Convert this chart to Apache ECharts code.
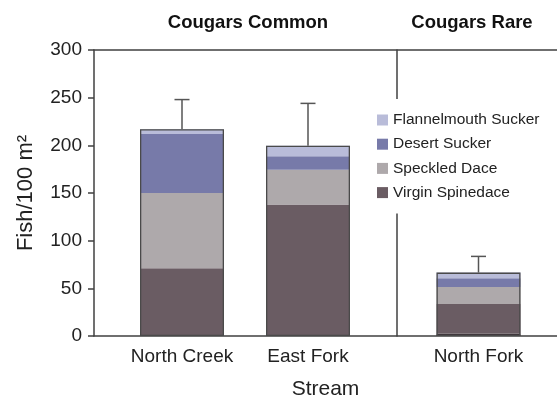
<!DOCTYPE html>
<html><head><meta charset="utf-8">
<script src="https://cdn.jsdelivr.net/npm/echarts@6/dist/echarts.min.js"></script>
<style>html,body{margin:0;padding:0;background:#fff}#c{width:557px;height:401px}</style>
</head><body><div id="c"></div>
<script>
// ---- data ----
const streams = ['North Creek', 'East Fork', 'North Fork'];
const streamGroup = [0, 0, 1];
const groupTitles = ['Cougars Common', 'Cougars Rare'];
const otherFish = [0, 0, 2.5];
const virginSpinedace = [71, 138, 31];
const speckledDace = [79, 36.5, 18];
const desertSucker = [62, 14, 9];
const flannelmouthSucker = [5, 11, 6];
const errorTop = [248, 244, 83.5];
const yMin = 0, yMax = 300, yStep = 50;
const yName = 'Fish/100 m²';
const xName = 'Stream';

// ---- styles / layout ----
const FONT = "'Liberation Sans', Arial, sans-serif";
const TFONT = "'Liberation Sans Narrow', 'Arial Narrow', 'Liberation Sans', sans-serif";
const AXIS = '#404040';
const species = [
  { name: 'Other', data: otherFish, color: '#3d3238' },
  { name: 'Virgin Spinedace', data: virginSpinedace, color: '#6a5c63' },
  { name: 'Speckled Dace', data: speckledDace, color: '#aea9ab' },
  { name: 'Desert Sucker', data: desertSucker, color: '#777aa9' },
  { name: 'Flannelmouth Sucker', data: flannelmouthSucker, color: '#b9bcd9' }
];
const legendOrder = ['Flannelmouth Sucker', 'Desert Sucker', 'Speckled Dace', 'Virgin Spinedace'];
const groupGrids = [
  { left: 119, width: 252, top: 50, bottom: 65, outerBoundsMode: 'none' },
  { left: 397, width: 163, top: 50, bottom: 65, outerBoundsMode: 'none' }
];
const titlePos = [248, 472];
const BAR_W = 84;

const totals = streams.map((s, i) => species.reduce((a, sp) => a + sp.data[i], 0));

const grids = [{ left: 94, right: 0, top: 50, bottom: 65, outerBoundsMode: 'none' }].concat(groupGrids);
const xAxes = [
  { gridIndex: 0, type: 'value', min: 0, max: 1, axisLine: { show: true, lineStyle: { color: AXIS, width: 1.5 } },
    axisTick: { show: false }, axisLabel: { show: false }, splitLine: { show: false },
    name: xName, nameLocation: 'middle', nameGap: 43, nameTextStyle: { fontFamily: FONT, fontSize: 21, color: '#222' } },
  { gridIndex: 0, type: 'value', position: 'top', min: 0, max: 1, axisLine: { show: true, lineStyle: { color: AXIS, width: 1.5 } },
    axisTick: { show: false }, axisLabel: { show: false }, splitLine: { show: false } }
];
const yAxes = [
  { gridIndex: 0, type: 'value', min: yMin, max: yMax, interval: yStep,
    axisLine: { show: true, lineStyle: { color: AXIS, width: 1.5 } },
    axisTick: { show: true, length: 6, lineStyle: { color: AXIS, width: 1.5 } },
    axisLabel: { fontFamily: FONT, fontSize: 19, color: '#222', margin: 12 },
    splitLine: { show: false },
    name: yName, nameLocation: 'middle', nameGap: 57, nameRotate: 90,
    nameTextStyle: { fontFamily: FONT, fontSize: 22, color: '#222' } }
];
const series = [];
groupTitles.forEach((g, gi) => {
  const idx = streams.map((s, i) => i).filter(i => streamGroup[i] === gi);
  const xi = xAxes.length, yi = yAxes.length;
  xAxes.push({ gridIndex: gi + 1, type: 'category', data: idx.map(i => streams[i]),
    axisLine: { show: false }, axisTick: { show: false },
    axisLabel: { interval: 0, fontFamily: FONT, fontSize: 19, color: '#222', margin: 11 } });
  yAxes.push({ gridIndex: gi + 1, type: 'value', min: yMin, max: yMax, interval: yStep,
    axisLine: { show: gi === 1, lineStyle: { color: AXIS, width: 1.5 } },
    axisTick: { show: false }, axisLabel: { show: false }, splitLine: { show: false } });
  species.forEach(sp => {
    series.push({ type: 'bar', name: sp.name, xAxisIndex: xi, yAxisIndex: yi, stack: 'fish' + gi,
      barWidth: BAR_W, barGap: '-100%', itemStyle: { color: sp.color }, data: idx.map(i => sp.data[i]) });
  });
  series.push({ type: 'bar', name: 'outline' + gi, xAxisIndex: xi, yAxisIndex: yi, barWidth: BAR_W, barGap: '-100%',
    itemStyle: { color: 'rgba(0,0,0,0)', borderColor: '#4a4a4a', borderWidth: 1.3 }, z: 3,
    data: idx.map(i => totals[i]) });
  series.push({ type: 'custom', name: 'err' + gi, xAxisIndex: xi, yAxisIndex: yi, z: 4,
    encode: { x: 0, y: [1, 2] },
    data: idx.map((i, k) => [k, totals[i], errorTop[i]]),
    renderItem: (params, api) => {
      const x = api.value(0);
      const a = api.coord([x, api.value(1)]);
      const b = api.coord([x, api.value(2)]);
      const st = { stroke: '#555', lineWidth: 1.5 };
      return { type: 'group', children: [
        { type: 'line', shape: { x1: a[0], y1: a[1], x2: b[0], y2: b[1] }, style: st },
        { type: 'line', shape: { x1: b[0] - 7.5, y1: b[1], x2: b[0] + 7.5, y2: b[1] }, style: st }
      ] };
    } });
});

const chart = echarts.init(document.getElementById('c'));
chart.setOption({
  animation: false,
  backgroundColor: '#fff',
  title: groupTitles.map((t, i) => ({ text: t, left: titlePos[i], top: 13, textAlign: 'center', padding: 0,
    textStyle: { fontFamily: TFONT, fontSize: 18.5, fontWeight: 'bold', color: '#111' } })),
  legend: { data: legendOrder, orient: 'vertical', left: 372, top: 99, itemWidth: 11, itemHeight: 11, itemGap: 8.2,
    padding: [13, 6, 13, 5], backgroundColor: '#fff', icon: 'rect', selectedMode: false,
    textStyle: { fontFamily: FONT, fontSize: 15.5, lineHeight: 16, color: '#222' } },
  grid: grids,
  xAxis: xAxes,
  yAxis: yAxes,
  series: series
});
</script></body></html>
